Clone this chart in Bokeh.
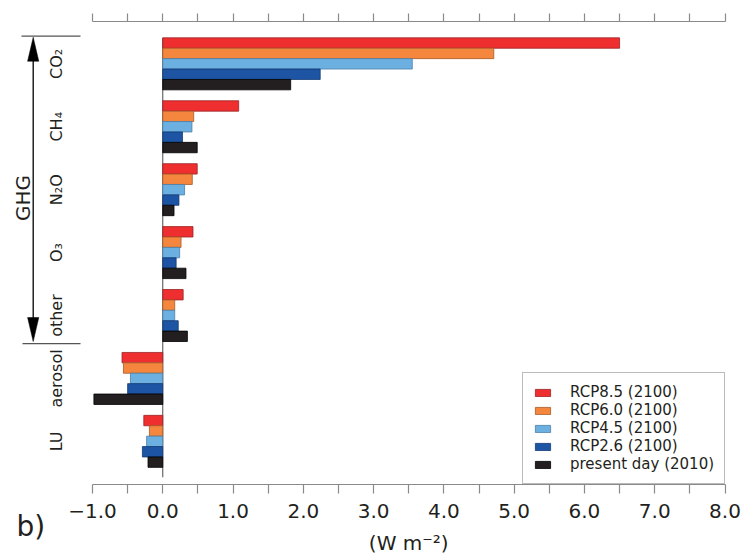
import numpy as np
from bokeh.plotting import figure
from bokeh.models import Range1d, LinearAxis, FixedTicker
from bokeh.core.properties import value
from bokeh.embed import file_html
from bokeh.resources import INLINE

# ---------------- data (W m-2) ----------------
categories = ["CO₂", "CH₄", "N₂O", "O₃", "other", "aerosol", "LU"]
series_names = ["RCP8.5 (2100)", "RCP6.0 (2100)", "RCP4.5 (2100)",
                "RCP2.6 (2100)", "present day (2010)"]
rcp85 = [6.50, 1.08, 0.49, 0.43, 0.29, -0.58, -0.27]
rcp60 = [4.71, 0.44, 0.42, 0.26, 0.17, -0.56, -0.19]
rcp45 = [3.55, 0.415, 0.31, 0.24, 0.17, -0.46, -0.23]
rcp26 = [2.24, 0.28, 0.23, 0.19, 0.22, -0.50, -0.29]
present = [1.82, 0.49, 0.16, 0.33, 0.35, -0.98, -0.21]
ghg_categories = ["CO₂", "CH₄", "N₂O", "O₃", "other"]
x_ticks = [-1, 0, 1, 2, 3, 4, 5, 6, 7, 8]
x_minor_ticks = [-0.5, 0.5, 1.5, 2.5, 3.5, 4.5, 5.5, 6.5, 7.5]
x_label = "(W m⁻²)"
panel_label = "b)"
group_label = "GHG"

series_values = [rcp85, rcp60, rcp45, rcp26, present]
fill_colors = ["#EE2E2F", "#F4863D", "#6CB0E2", "#1D54A4", "#231F20"]
line_colors = ["#9C2224", "#A65A2A", "#4A7FA8", "#123A72", "#000000"]

# ---------------- layout (canvas pixels) ----------------
W, H = 746, 556
AX_L, AX_R = 92.0, 724.5          # pixel positions of x = -1 and x = 8
AX_TOP, AX_BOT = 20.7, 484.0      # pixel rows of top / bottom axis lines
X_MIN, X_MAX = -1.0, 8.0
BAR_PX = 10.4                     # pixel height of one bar
TOP_PAD = 1.6                     # bar units between top axis and first bar
GROUP_PITCH = 6.05                # bar units between group starts
PXX = (AX_R - AX_L) / (X_MAX - X_MIN)
FONT = "DejaVu Sans"
TXT = "#231F20"


def xd(px):
    return X_MIN + (px - AX_L) / PXX


def yd(py):
    return (py - AX_TOP) / BAR_PX


p = figure(width=W, height=H, output_backend="svg", toolbar_location=None,
           x_range=Range1d(xd(0), xd(W)), y_range=Range1d(yd(H), yd(0)),
           y_axis_location=None, x_axis_location="below", min_border=0)
p.outline_line_color = None
p.grid.visible = False
p.background_fill_color = "white"

n_series = len(series_names)
group_tops = [TOP_PAD + g * GROUP_PITCH for g in range(len(categories))]

# zero line
p.segment(x0=[0], y0=[group_tops[0]], x1=[0],
          y1=[group_tops[-1] + n_series + 0.95],
          line_color="#4a4a4a", line_width=1)

for k, (name, vals) in enumerate(zip(series_names, series_values)):
    ys = [t + k + 0.5 for t in group_tops]
    p.hbar(y=ys, left=0, right=vals, height=1.0,
           fill_color=fill_colors[k], line_color=line_colors[k],
           line_width=0.8, legend_label=name)


# ---------------- axes ----------------
def style_axis(a):
    a.bounds = (X_MIN, X_MAX)
    a.ticker = FixedTicker(ticks=x_ticks, minor_ticks=x_minor_ticks)
    a.axis_line_color = "#8a8a8a"
    a.axis_line_width = 1.2
    a.major_tick_line_color = "#8a8a8a"
    a.minor_tick_line_color = "#8a8a8a"
    a.major_tick_line_width = 1.2
    a.minor_tick_line_width = 1.2
    a.major_tick_in = 0
    a.minor_tick_in = 0


ax = p.xaxis[0]
style_axis(ax)
ax.fixed_location = yd(AX_BOT)
ax.major_tick_out = 9
ax.minor_tick_out = 9
ax.major_label_overrides = {t: f"{t:.1f}".replace("-", "−") for t in x_ticks}
ax.major_label_text_font = FONT
ax.major_label_text_font_size = "20px"
ax.major_label_text_color = TXT
ax.major_label_standoff = 10

top = LinearAxis()
style_axis(top)
top.fixed_location = yd(AX_TOP)
top.major_tick_out = 8
top.minor_tick_out = 8
top.major_label_overrides = {t: "" for t in x_ticks}
p.add_layout(top, "above")

# ---------------- legend ----------------
lg = p.legend[0]
lg.location = (522, H - AX_BOT)
lg.margin = 0
lg.padding = 10
lg.spacing = 0
lg.label_height = 18
lg.glyph_height = 9
lg.glyph_width = 19
lg.label_standoff = 18
lg.label_text_font = FONT
lg.label_text_font_size = "15px"
lg.label_text_color = TXT
lg.border_line_color = "#777777"
lg.border_line_width = 1
lg.background_fill_color = "white"
lg.background_fill_alpha = 1

# ---------------- left annotations ----------------
p.text(x=[xd(56)] * len(categories),
       y=[t + n_series / 2 for t in group_tops], text=categories,
       angle=np.pi / 2, text_align="center", text_baseline="middle",
       text_font=value(FONT), text_font_size="16px", text_color=TXT)

ghg_top = yd(35.7)
ghg_bot = group_tops[len(ghg_categories) - 1] + n_series + 0.2
p.segment(x0=[xd(21), xd(22)], y0=[ghg_top, ghg_bot],
          x1=[xd(80), xd(80)], y1=[ghg_top, ghg_bot],
          line_color="#555555", line_width=1.2)
ax_x = xd(32.7)
hw = 5.6 / PXX
hl = 24 / BAR_PX
p.segment(x0=[ax_x], y0=[ghg_top + 1.0], x1=[ax_x], y1=[ghg_bot - 1.0],
          line_color="black", line_width=1.3)
p.patches(xs=[[ax_x, ax_x - hw, ax_x + hw], [ax_x, ax_x - hw, ax_x + hw]],
          ys=[[ghg_top + 0.1, ghg_top + 0.1 + hl, ghg_top + 0.1 + hl],
              [ghg_bot - 0.2, ghg_bot - 0.2 - hl, ghg_bot - 0.2 - hl]],
          fill_color="black", line_color="black", line_width=0.5)

p.text(x=[xd(22.5)], y=[yd(197.5)], text=[group_label], angle=np.pi / 2,
       text_align="center", text_baseline="middle", text_font=value(FONT),
       text_font_size="20px", text_color=TXT)

p.text(x=[xd(16)], y=[yd(526)], text=[panel_label], text_align="left",
       text_baseline="middle", text_font=value(FONT),
       text_font_size="28px", text_color=TXT)
p.text(x=[(X_MIN + X_MAX) / 2], y=[yd(542)], text=[x_label],
       text_align="center", text_baseline="middle",
       text_font=value(FONT), text_font_size="20px", text_color=TXT)

open("out.html", "w").write(file_html(p, INLINE))
